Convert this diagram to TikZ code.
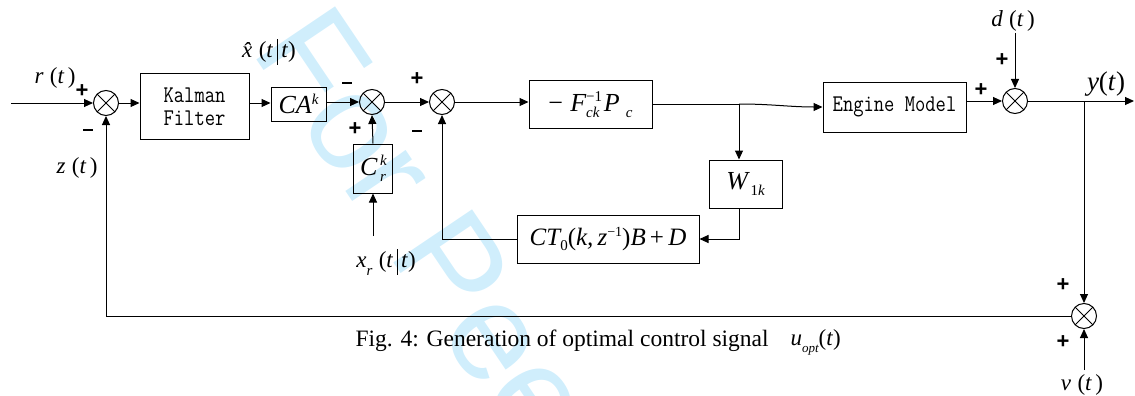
\documentclass[tikz,border=0pt]{standalone}
\usepackage{fontspec}
\usepackage{graphicx}
\setmainfont{Liberation Serif}
\newfontfamily\sansb{Liberation Sans}
\usetikzlibrary{arrows.meta,calc}
\definecolor{wm}{RGB}{208,238,252}
\newcommand\tpar[1]{\textup{(}#1\textup{)}}
\newcommand\tbar{\rule[-7pt]{0.7pt}{26pt}}
\newcommand\SupSub[3][14]{\rlap{\raisebox{10pt}{\fontsize{#1}{#1}\selectfont #2}}\raisebox{-6pt}{\fontsize{#1}{#1}\selectfont #3}}
\newcommand\monotext[1]{{\ttfamily\addfontfeatures{FakeBold=3}\fontsize{20}{22}\selectfont\scalebox{1}[1.2]{#1}}}
\begin{document}
\begin{tikzpicture}[x=1pt,y=-1pt,
  line width=1pt,
  arr/.style={-{Triangle[length=9pt,width=8pt]}},
  blk/.style={draw, line width=1pt, inner sep=0pt, align=center},
  sumj/.style={circle, draw, line width=1pt, minimum size=25pt, inner sep=0pt,
    path picture={\draw[line width=0.8pt] (path picture bounding box.center) +(45:12.5pt) -- +(225:12.5pt)
      (path picture bounding box.center) +(135:12.5pt) -- +(315:12.5pt);}},
  lbl/.style={inner sep=0pt, font=\fontsize{23}{26}\selectfont\itshape},
  big/.style={font=\fontsize{26}{30}\selectfont\itshape},
  pm/.style={inner sep=0pt, font=\sansb\bfseries\fontsize{22}{22}\selectfont}]
\useasboundingbox (0,0) rectangle (1135,396);
% watermark
\begin{scope}
\clip (0,0) rectangle (1135,396);
\node[font=\sansb\fontsize{138}{138}\selectfont, text=wm, rotate=-56, anchor=base west, inner sep=0pt] (wmark) at (250,50) {For Peer Review};
\end{scope}
% junctions
\node[sumj] (s1) at (106,103) {};
\node[sumj] (s2) at (372,102) {};
\node[sumj] (s3) at (442,102) {};
\node[sumj] (s4) at (1015,101) {};
\node[sumj] (s5) at (1084,316) {};
% blocks
\node[blk, minimum width=109pt, minimum height=65pt] (kf) at (194.5,106.5)
  {\monotext{Kalman}\\[7pt]\monotext{Filter}};
\node[blk, minimum width=55pt, minimum height=34pt, big] (ca) at (298.5,104) {CA\raisebox{9pt}{\fontsize{15}{15}\selectfont k}};
\node[blk, minimum width=39pt, minimum height=49pt, big] (cr) at (373,168.5) {C\SupSub[15]{\,k}{\,r}};
\node[blk, minimum width=123pt, minimum height=48pt, big] (fb) at (590.5,104.5) {\textup{−}\;F\SupSub[15]{\textup{−1}}{ck}\,P\raisebox{-6pt}{\fontsize{15}{15}\selectfont\, c}};
\node[blk, minimum width=73pt, minimum height=48pt, big] (wb) at (745.5,184) {W\raisebox{-6pt}{\fontsize{15}{15}\selectfont\,\textup{1}k}};
\node[blk, minimum width=143pt, minimum height=50pt] (em) at (894.5,107) {\monotext{Engine Model}};
\node[blk, minimum width=182pt, minimum height=48pt, font=\fontsize{25}{30}\selectfont\itshape] (ct) at (608,239)
  {CT\raisebox{-5pt}{\fontsize{15}{15}\selectfont\textup{0}}\textup{(}k,\,z\raisebox{9pt}{\fontsize{14}{14}\selectfont\textup{−1}}\textup{)}B\,\textup{+}\,D};
% free ends
\coordinate (in) at (11,103);
\coordinate (xr) at (373,236);
\coordinate (dd) at (1015,33);
\coordinate (vv) at (1084,370);
\coordinate (out) at (1134,101);
\coordinate (br1) at (739,104);
\coordinate (br2) at (1084,101);
% connectors
\draw[arr] (in) -- (s1.west);
\draw[arr] (s1.east) -- (s1 -| kf.west);
\draw[arr] (s1 -| kf.east) -- (s1 -| ca.west);
\draw[arr] (s2 -| ca.east) -- (s2.west);
\draw[arr] (cr.north) -- (s2.south);
\draw[arr] (xr) -- (cr.south);
\draw[arr] (s2.east) -- (s3.west);
\draw[arr] (s3.east) -- (s3 -| fb.west);
\draw (fb.east |- br1) -- (br1);
\draw[arr] (br1) to[out=0,in=180] (em.west);
\draw[arr] (br1) -- (br1 |- wb.north);
\draw[arr] (br1 |- wb.south) |- (ct.east);
\draw[arr] (ct.west) -| (s3.south);
\draw[arr] (s4 -| em.east) -- (s4.west);
\draw[arr] (dd) -- (s4.north);
\draw[arr] (s4.east) -- (out);
\draw[arr] (br2) -- (s5.north);
\draw[arr] (vv) -- (s5.south);
\draw[arr] (s5.west) -| (s1.south);
% signs
\node[pm] (p1) at (82,91) {+};
\node[pm] (m1) at (88,130) {\rule{10pt}{2.4pt}};
\node[pm] (m2) at (347,83) {\rule{10pt}{2.4pt}};
\node[pm] (p2) at (355,129) {+};
\node[pm] (p3) at (417,79) {+};
\node[pm] (m3) at (417,131) {\rule{10pt}{2.4pt}};
\node[pm] (p4) at (981,90) {+};
\node[pm] (p5) at (1002,60) {+};
\node[pm] (p6) at (1063,285) {+};
\node[pm] (p7) at (1063,342) {+};
% labels
\node[lbl] (lr) at (55,78) {r\;\tpar{t\,}};
\node[lbl] (lz) at (77,168) {z\;\tpar{t\,}};
\node[lbl] (lx) at (269,52) {\^{x}\;\tpar{t\,\tbar\,t}};
\node[lbl] (lxr) at (386,262) {x\raisebox{-8pt}{\fontsize{15}{15}\selectfont r}\;\tpar{t\,\tbar\,t}};
\node[lbl] (ld) at (1013,21) {d\;\tpar{t\,}};
\node[lbl, font=\fontsize{27}{30}\selectfont\itshape] (ly) at (1106,84) {y\tpar{t}};
\node[lbl] (lv) at (1082,385) {v\;\tpar{t\,}};
% caption
\node[inner sep=0pt, anchor=west, font=\fontsize{23.5}{26}\selectfont] (cap) at (355,341) {Fig. 4: Generation of optimal control signal};
\node[inner sep=0pt, anchor=west, font=\fontsize{23}{26}\selectfont\itshape] (uopt) at (790,342) {u\raisebox{-7pt}{\fontsize{13}{13}\selectfont opt}\tpar{t}};
\end{tikzpicture}
\end{document}
